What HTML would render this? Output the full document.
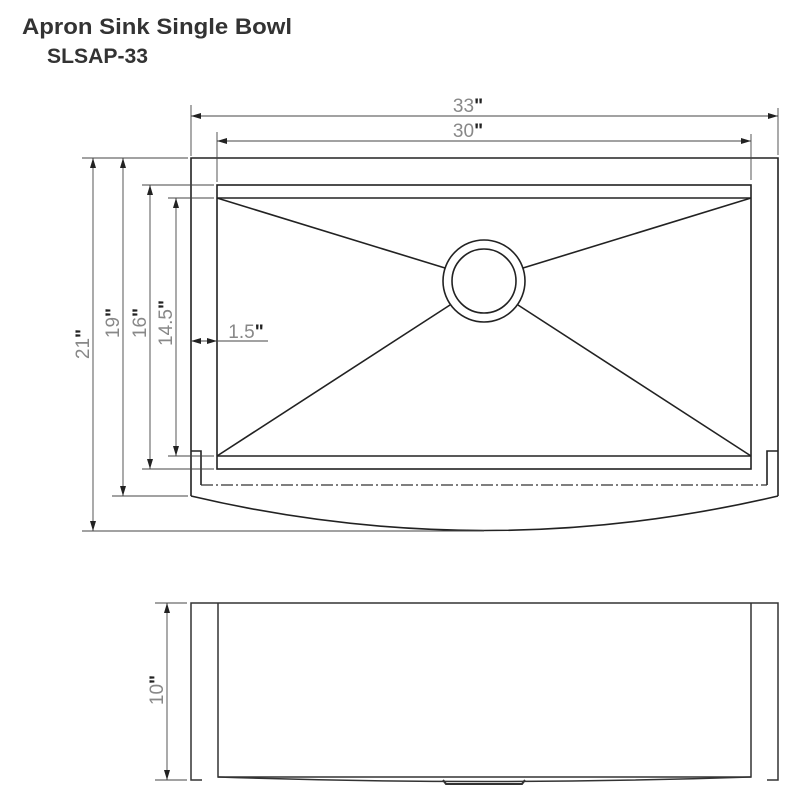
<!DOCTYPE html>
<html><head><style>
html,body{margin:0;padding:0;background:#fff;}
svg{display:block;}
.t{font-family:"Liberation Sans",sans-serif;}
</style></head><body>
<svg width="800" height="800" viewBox="0 0 800 800" xmlns="http://www.w3.org/2000/svg">
<defs>
<marker id="a" viewBox="0 0 10 6" refX="10" refY="3" markerWidth="10" markerHeight="6" markerUnits="userSpaceOnUse" orient="auto-start-reverse"><path d="M0,0 L10,3 L0,6z" fill="#222"/></marker>
</defs>
<text x="22" y="34" class="t" font-size="22" font-weight="bold" fill="#333" textLength="270" lengthAdjust="spacingAndGlyphs">Apron Sink Single Bowl</text>
<text x="47" y="63" class="t" font-size="21" font-weight="bold" fill="#333" textLength="101" lengthAdjust="spacingAndGlyphs">SLSAP-33</text>

<g stroke="#222" fill="none" stroke-width="1.6">
<path d="M191,496 L191,158 L778,158 L778,496"/>
<path d="M191,496 Q484,565 778,496"/>
<rect x="217" y="185" width="534" height="284"/>
<line x1="217" y1="198" x2="751" y2="198"/>
<line x1="217" y1="456" x2="751" y2="456"/>
<line x1="217" y1="198" x2="445" y2="268"/>
<line x1="751" y1="198" x2="523" y2="268"/>
<line x1="217" y1="456" x2="450" y2="305"/>
<line x1="751" y1="456" x2="518" y2="305"/>
<circle cx="484" cy="281" r="41" fill="#fff"/>
<circle cx="484" cy="281" r="32"/>
<path d="M191,451 L201,451 L201,485"/>
<path d="M778,451 L767,451 L767,485"/>
</g>
<line x1="201" y1="485" x2="767" y2="485" stroke="#333" stroke-width="1.3" stroke-dasharray="12,3,2,3"/>

<g stroke="#444" stroke-width="0.9" fill="none">
<line x1="191" y1="105" x2="191" y2="156"/>
<line x1="778" y1="108" x2="778" y2="155"/>
<line x1="217" y1="132" x2="217" y2="182"/>
<line x1="751" y1="134" x2="751" y2="180"/>
<line x1="191" y1="116" x2="778" y2="116" marker-start="url(#a)" marker-end="url(#a)"/>
<line x1="217" y1="141" x2="751" y2="141" marker-start="url(#a)" marker-end="url(#a)"/>
<line x1="82" y1="158" x2="188" y2="158"/>
<line x1="82" y1="531" x2="484" y2="531"/>
<line x1="112" y1="496" x2="188" y2="496"/>
<line x1="142" y1="185" x2="214" y2="185"/>
<line x1="142" y1="469" x2="214" y2="469"/>
<line x1="168" y1="198" x2="214" y2="198"/>
<line x1="168" y1="456" x2="214" y2="456"/>
<line x1="93" y1="158" x2="93" y2="531" marker-start="url(#a)" marker-end="url(#a)"/>
<line x1="123" y1="158" x2="123" y2="496" marker-start="url(#a)" marker-end="url(#a)"/>
<line x1="150" y1="185" x2="150" y2="469" marker-start="url(#a)" marker-end="url(#a)"/>
<line x1="176" y1="198" x2="176" y2="456" marker-start="url(#a)" marker-end="url(#a)"/>
<line x1="191" y1="341" x2="217" y2="341" marker-start="url(#a)" marker-end="url(#a)"/>
<line x1="217" y1="341" x2="268" y2="341"/>
<line x1="155" y1="603" x2="187" y2="603"/>
<line x1="155" y1="780" x2="187" y2="780"/>
<line x1="167" y1="603" x2="167" y2="780" marker-start="url(#a)" marker-end="url(#a)"/>
</g>

<g class="t" fill="#888" font-size="19">
<text x="468" y="112" text-anchor="middle">33<tspan fill="#222" font-weight="bold">"</tspan></text>
<text x="468" y="137" text-anchor="middle">30<tspan fill="#222" font-weight="bold">"</tspan></text>
<text x="246" y="338" text-anchor="middle">1.5<tspan fill="#222" font-weight="bold">"</tspan></text>
<text transform="translate(89,344) rotate(-90)" text-anchor="middle">21<tspan fill="#222" font-weight="bold">"</tspan></text>
<text transform="translate(119,323) rotate(-90)" text-anchor="middle">19<tspan fill="#222" font-weight="bold">"</tspan></text>
<text transform="translate(146,323) rotate(-90)" text-anchor="middle">16<tspan fill="#222" font-weight="bold">"</tspan></text>
<text transform="translate(172,323) rotate(-90)" text-anchor="middle">14.5<tspan fill="#222" font-weight="bold">"</tspan></text>
<text transform="translate(163,690) rotate(-90)" text-anchor="middle">10<tspan fill="#222" font-weight="bold">"</tspan></text>
</g>

<g stroke="#333" fill="none" stroke-width="1.5">
<path d="M202,780 L191,780 L191,603 L778,603 L778,780 L767,780"/>
<path d="M218,603 L218,777 L751,777 L751,603"/>
<path d="M218,777 Q484,786 751,777"/>
<path d="M443,780 L446,784 L522,784 L525,780" stroke-width="2"/>
</g>
</svg>
</body></html>
